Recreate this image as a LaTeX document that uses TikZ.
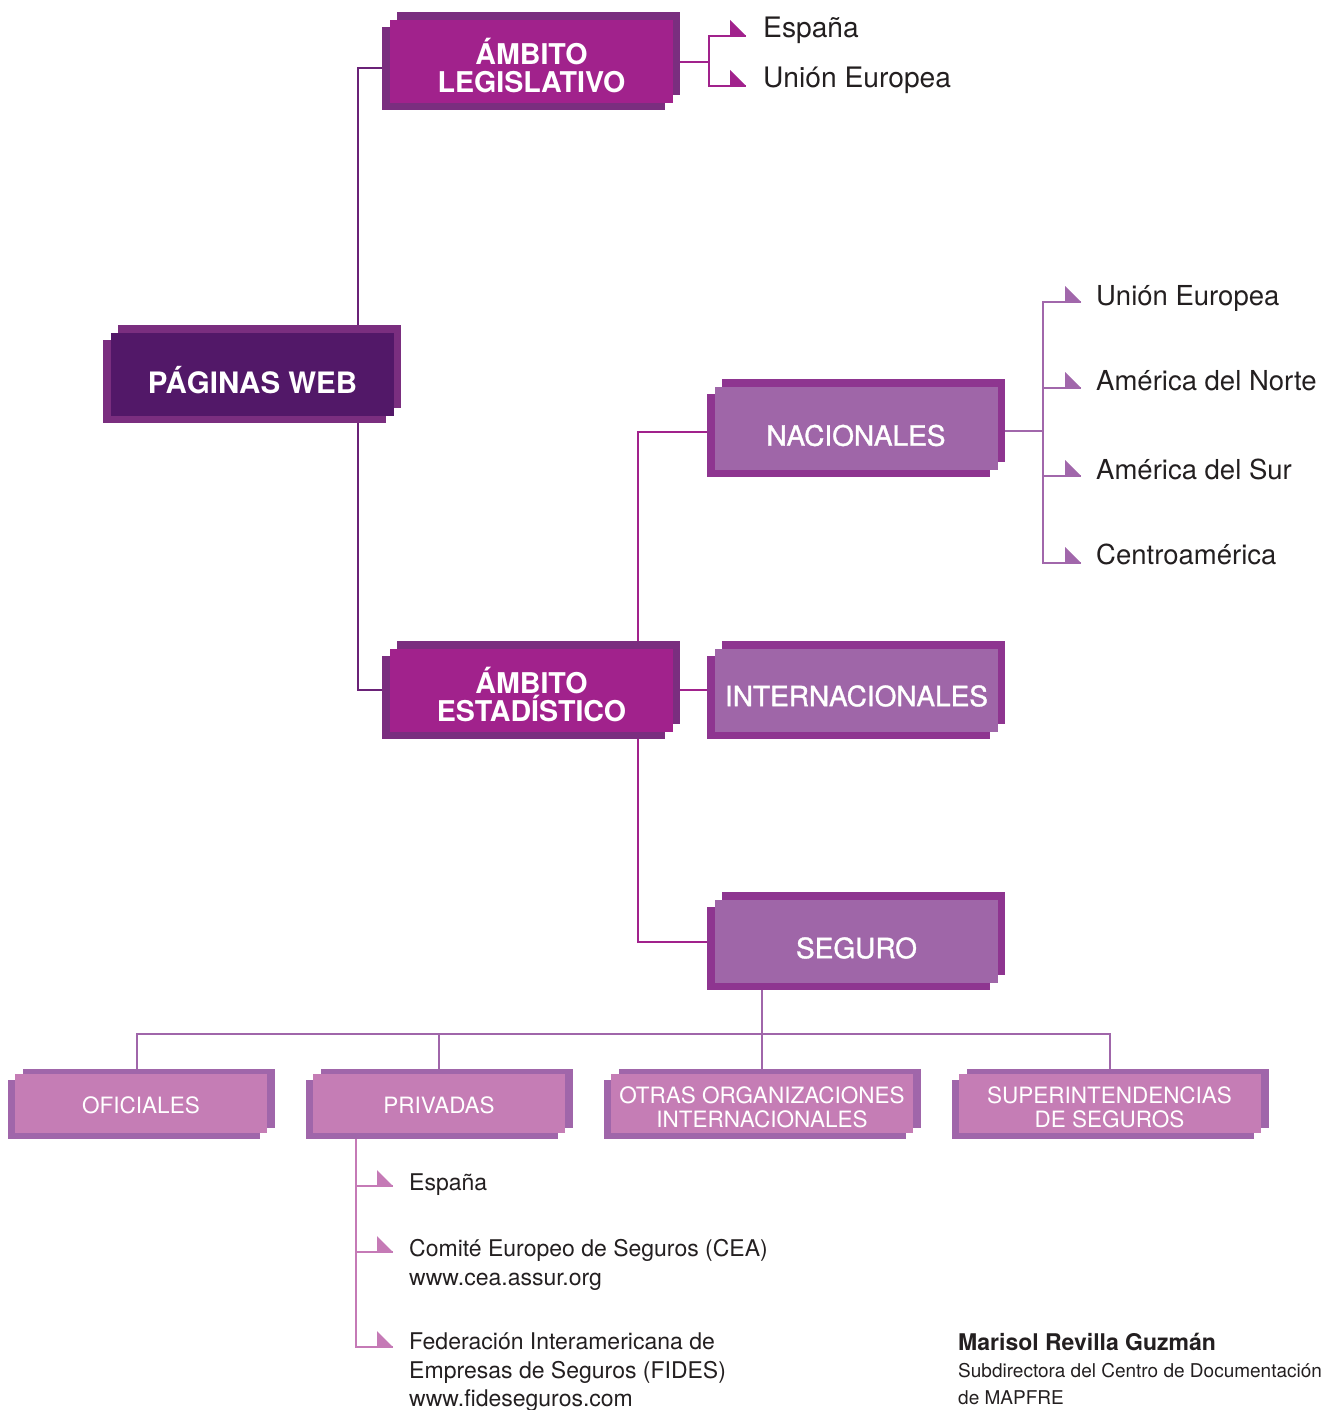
\documentclass[tikz,border=0pt]{standalone}
\usepackage{fontspec}
\setmainfont{TeX Gyre Heros}
\newfontfamily\medfont[FakeBold=1.2]{TeX Gyre Heros}
\usetikzlibrary{shadows,backgrounds,calc}
\definecolor{txt}{HTML}{231F20}
\definecolor{webF}{HTML}{521868}
\definecolor{darkB}{HTML}{7A2E7F}
\definecolor{magF}{HTML}{A1228C}
\definecolor{midF}{HTML}{9F66A8}
\definecolor{midB}{HTML}{8E3590}
\definecolor{lowF}{HTML}{C57DB5}
\definecolor{lowB}{HTML}{A066AA}
\definecolor{webL}{HTML}{6A2277}
\definecolor{midL}{HTML}{A167AB}
\definecolor{pinkL}{HTML}{C57AB6}
\tikzset{
  bigbox/.style={rectangle, inner sep=0pt, minimum width=283pt, minimum height=83pt, fill=#1},
  bigshadow/.style={general shadow={shadow xshift=7pt, shadow yshift=8pt, fill=#1},
                    general shadow={shadow xshift=-8pt, shadow yshift=-7pt, fill=#1}},
  lowbox/.style={rectangle, inner sep=0pt, minimum height=59pt, fill=lowF,
                 general shadow={shadow xshift=8pt, shadow yshift=5pt, fill=lowB},
                 general shadow={shadow xshift=-7pt, shadow yshift=-6pt, fill=lowB}},
  boldtxt/.style={inner sep=0pt, text=white, align=center, font=\bfseries\fontsize{28.6}{28}\selectfont},
  medtxt/.style={inner sep=0pt, text=white, align=center, font=\medfont\fontsize{28}{28}\selectfont},
  lowtxt/.style={inner sep=0pt, text=white, align=center, font=\fontsize{22.5}{24}\selectfont},
  itemtxt/.style={inner sep=0pt, anchor=base west, text=txt, font=\fontsize{27.5}{28}\selectfont},
  smalltxt/.style={inner sep=0pt, anchor=base west, text=txt, font=\fontsize{23}{29}\selectfont},
  link/.style={line width=2pt, #1},
}
\newcommand\tri[2]{\fill[#1] (#2) -- ++(-16,0) -- ++(0,-16) -- cycle;}
\begin{document}
\begin{tikzpicture}[x=1pt,y=-1pt]
\useasboundingbox (0,0) rectangle (1331,1410);

% boxes
\node[bigbox=webF, bigshadow=darkB] (web) at (252.5,374) {};
\node[boldtxt, font=\bfseries\fontsize{29.5}{28}\selectfont] (webt) at ([yshift=-6pt]web.center) {PÁGINAS WEB};
\node[bigbox=magF, bigshadow=darkB] (leg) at (531.5,61.5) {};
\node[boldtxt] (legt) at ([yshift=-4pt]leg.center) {ÁMBITO\\LEGISLATIVO};
\node[bigbox=magF, bigshadow=darkB] (est) at (531.5,690) {};
\node[boldtxt] (estt) at ([yshift=-4pt]est.center) {ÁMBITO\\ESTADÍSTICO};
\node[bigbox=midF, bigshadow=midB] (nac) at (856,428.5) {};
\node[medtxt] (nact) at ([yshift=-7pt]nac.center) {NACIONALES};
\node[bigbox=midF, bigshadow=midB] (int) at (856.5,690) {};
\node[medtxt] (intt) at ([yshift=-6pt]int.center) {INTERNACIONALES};
\node[bigbox=midF, bigshadow=midB] (seg) at (856.5,941) {};
\node[medtxt] (segt) at ([yshift=-7pt]seg.center) {SEGURO};

\node[lowbox, minimum width=252pt] (ofi) at (141,1103.5) {};
\node[lowtxt] (ofit) at ([yshift=-2pt]ofi.center) {OFICIALES};
\node[lowbox, minimum width=252pt] (pri) at (439,1103.5) {};
\node[lowtxt] (prit) at ([yshift=-2pt]pri.center) {PRIVADAS};
\node[lowbox, minimum width=302pt] (otr) at (762,1103.5) {};
\node[lowtxt] (otrt) at ([yshift=-4pt]otr.center) {OTRAS ORGANIZACIONES\\INTERNACIONALES};
\node[lowbox, minimum width=302pt] (sup) at (1109.5,1103.5) {};
\node[lowtxt] (supt) at ([yshift=-4pt]sup.center) {SUPERINTENDENCIAS\\DE SEGUROS};

% list texts
\node[itemtxt, font=\fontsize{28.2}{28}\selectfont] (l1) at (763,38) {España};
\node[itemtxt, font=\fontsize{28.2}{28}\selectfont] (l2) at (763,88) {Unión Europea};
\node[itemtxt] (n1) at (1096,305) {Unión Europea};
\node[itemtxt] (n2) at (1096,390) {América del Norte};
\node[itemtxt] (n3) at (1096,479) {América del Sur};
\node[itemtxt] (n4) at (1096,564) {Centroamérica};
\node[smalltxt] (p1) at (409,1190) {España};
\node[smalltxt] (p2) at (409,1256) {Comité Europeo de Seguros (CEA)};
\node[smalltxt] (p2b) at (409,1285) {www.cea.assur.org};
\node[smalltxt] (p3) at (409,1349) {Federación Interamericana de};
\node[smalltxt] (p3b) at (409,1378) {Empresas de Seguros (FIDES)};
\node[smalltxt] (p3c) at (409,1406) {www.fideseguros.com};
\node[inner sep=0pt, anchor=base west, text=txt, font=\bfseries\fontsize{23}{27}\selectfont] (au) at (958,1350) {Marisol Revilla Guzmán};
\node[inner sep=0pt, anchor=base west, text=txt, font=\fontsize{19}{27}\selectfont] (au2) at (958,1377) {Subdirectora del Centro de Documentación};
\node[inner sep=0pt, anchor=base west, text=txt, font=\fontsize{19}{27}\selectfont] (au3) at (958,1404) {de MAPFRE};

% end points of branches
\coordinate (e1) at ($(l1.base west)+(-17,-2)$);
\coordinate (e2) at ($(l2.base west)+(-17,-2)$);
\coordinate (f1) at ($(n1.base west)+(-15,-3)$);
\coordinate (f2) at ($(n2.base west)+(-15,-2)$);
\coordinate (f3) at ($(n3.base west)+(-15,-3)$);
\coordinate (f4) at ($(n4.base west)+(-15,-1)$);
\coordinate (g1) at ($(p1.base west)+(-16,-4)$);
\coordinate (g2) at ($(p2.base west)+(-16,-4)$);
\coordinate (g3) at ($(p3.base west)+(-16,-2)$);

% junctions
\coordinate (j1) at (358,68);
\coordinate (j2) at (358,690);
\coordinate (lb) at (709,62);
\coordinate (j3) at (638,432);
\coordinate (j4) at (638,942);
\coordinate (nb) at (1043,431);
\coordinate (sb) at (762,1034);
\coordinate (bl) at (137,1034);
\coordinate (br) at (1110,1034);
\coordinate (pb) at (356,1139);

\begin{pgfonlayer}{background}
\draw[link=webL] (web.center -| j1) -- (j1) -- (j1 -| leg.center);
\draw[link=webL] (web.center -| j2) -- (j2) -- (j2 -| est.center);
\draw[link=magF] (leg.center |- lb) -- (lb);
\draw[link=magF] (e1) -- (e1 -| lb) -- (e2 -| lb) -- (e2);
\draw[link=magF] (est.center -| j3) -- (j3) -- (j3 -| nac.center);
\draw[link=magF] (est.center) -- (int.center);
\draw[link=magF] (est.center -| j4) -- (j4) -- (j4 -| seg.center);
\draw[link=midL] (nac.center |- nb) -- (nb);
\draw[link=midL] (f1) -- (f1 -| nb) -- (f4 -| nb) -- (f4);
\draw[link=midL] (f2 -| nb) -- (f2);
\draw[link=midL] (f3 -| nb) -- (f3);
\draw[link=lowB] (seg.center -| sb) -- (otr.center);
\draw[link=lowB] (bl |- ofi.center) -- (bl) -- (br) -- (br |- sup.center);
\draw[link=lowB] (pri.center |- sb) -- (pri.center);
\draw[link=pinkL] (pri.center -| pb) -- (g3 -| pb) -- (g3);
\draw[link=pinkL] (g1 -| pb) -- (g1);
\draw[link=pinkL] (g2 -| pb) -- (g2);
\end{pgfonlayer}

% arrow heads
\tri{magF}{e1}
\tri{magF}{e2}
\tri{midL}{f1}
\tri{midL}{f2}
\tri{midL}{f3}
\tri{midL}{f4}
\tri{pinkL}{g1}
\tri{pinkL}{g2}
\tri{pinkL}{g3}
\end{tikzpicture}
\end{document}
